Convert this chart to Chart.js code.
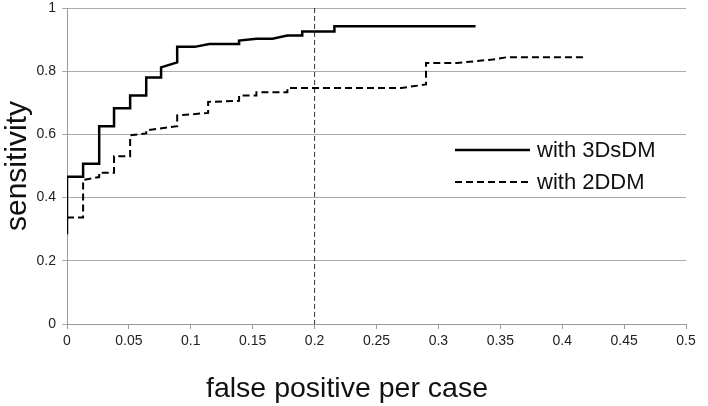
<!DOCTYPE html>
<html>
<head>
<meta charset="utf-8">
<script src="https://cdn.jsdelivr.net/npm/chart.js@4/dist/chart.umd.min.js"></script>
<style>
  html, body { margin: 0; padding: 0; background: #fff; }
</style>
</head>
<body>
<canvas id="rocChart" width="708" height="406"></canvas>
<script>
// FROC curves (step vertices)
const fp3D = [0, 0, 0.013, 0.013, 0.026, 0.026, 0.038, 0.038, 0.051, 0.051, 0.064, 0.064, 0.076, 0.076, 0.089, 0.089, 0.103, 0.115, 0.139, 0.139, 0.153, 0.166, 0.178, 0.19, 0.19, 0.216, 0.216, 0.33];
const sens3D = [0.284, 0.466, 0.466, 0.507, 0.507, 0.626, 0.626, 0.683, 0.683, 0.723, 0.723, 0.780, 0.780, 0.812, 0.828, 0.877, 0.877, 0.886, 0.886, 0.897, 0.903, 0.903, 0.913, 0.913, 0.926, 0.926, 0.942, 0.942];

const fp2D = [0, 0.013, 0.013, 0.026, 0.026, 0.038, 0.038, 0.051, 0.051, 0.064, 0.064, 0.089, 0.089, 0.114, 0.114, 0.139, 0.139, 0.153, 0.153, 0.178, 0.178, 0.27, 0.29, 0.29, 0.315, 0.344, 0.355, 0.418];
const sens2D = [0.337, 0.337, 0.456, 0.465, 0.479, 0.479, 0.531, 0.531, 0.597, 0.603, 0.613, 0.626, 0.660, 0.668, 0.703, 0.706, 0.723, 0.723, 0.733, 0.733, 0.747, 0.747, 0.758, 0.826, 0.826, 0.837, 0.844, 0.844];

const seriesNames = ["with 3DsDM", "with 2DDM"];
const markerFp = 0.2;

const xTitle = "false positive per case";
const yTitle = "sensitivity";

const FONT = '"Liberation Sans", Arial, sans-serif';

const toPoints = (xs, ys) => xs.map((x, i) => ({ x: x, y: ys[i] }));

// vertical dashed marker + axis titles + legend inside the plot
const decorPlugin = {
  id: 'decor',
  beforeDatasetsDraw(chart) {
    const { ctx, chartArea } = chart;
    const px = chart.scales.x.getPixelForValue(markerFp);
    ctx.save();
    ctx.strokeStyle = '#333';
    ctx.lineWidth = 1;
    ctx.setLineDash([5, 3]);
    ctx.beginPath();
    ctx.moveTo(px, chartArea.top);
    ctx.lineTo(px, chartArea.bottom);
    ctx.stroke();
    ctx.restore();
  },
  afterDraw(chart) {
    const { ctx } = chart;
    ctx.save();
    ctx.fillStyle = '#111';
    ctx.textAlign = 'center';
    ctx.textBaseline = 'alphabetic';
    ctx.font = '28.5px ' + FONT;
    ctx.fillText(xTitle, 347, 397);

    ctx.font = '30px ' + FONT;
    ctx.translate(26, 166);
    ctx.rotate(-Math.PI / 2);
    ctx.fillText(yTitle, 0, 0);
    ctx.restore();

    // legend
    ctx.save();
    ctx.font = '22px ' + FONT;
    ctx.fillStyle = '#111';
    ctx.textBaseline = 'middle';
    ctx.textAlign = 'left';
    chart.data.datasets.forEach((ds, i) => {
      const y = 150 + i * 32;
      ctx.strokeStyle = ds.borderColor;
      ctx.lineWidth = ds.borderWidth;
      ctx.setLineDash(ds.borderDash || []);
      ctx.beginPath();
      ctx.moveTo(455, y);
      ctx.lineTo(530, y);
      ctx.stroke();
      ctx.fillText(ds.label, 537, y + 1);
    });
    ctx.restore();
  }
};

new Chart(document.getElementById('rocChart'), {
  type: 'line',
  data: {
    datasets: [
      {
        label: seriesNames[0],
        data: toPoints(fp3D, sens3D),
        borderColor: '#000',
        borderWidth: 2.5,
        pointRadius: 0,
        tension: 0,
        fill: false
      },
      {
        label: seriesNames[1],
        data: toPoints(fp2D, sens2D),
        borderColor: '#000',
        borderWidth: 2,
        borderDash: [7, 4],
        pointRadius: 0,
        tension: 0,
        fill: false
      }
    ]
  },
  options: {
    responsive: false,
    animation: false,
    layout: { padding: { top: 8, right: 22, left: 0, bottom: 0 } },
    plugins: {
      legend: { display: false },
      tooltip: { enabled: false }
    },
    scales: {
      x: {
        type: 'linear',
        min: 0,
        max: 0.5,
        afterFit(scale) { scale.height = 82; },
        ticks: {
          stepSize: 0.05,
          padding: 4,
          color: '#222',
          font: { family: FONT, size: 14 },
          callback: v => String(Number(v.toFixed(2)))
        },
        grid: {
          drawOnChartArea: false,
          drawTicks: true,
          tickLength: 5,
          color: '#999'
        },
        border: { color: '#999', width: 1 }
      },
      y: {
        min: 0,
        max: 1,
        afterFit(scale) {
          scale.width = 67;
          scale.paddingTop = 0;
          scale.paddingBottom = 0;
        },
        ticks: {
          stepSize: 0.2,
          padding: 6,
          color: '#222',
          font: { family: FONT, size: 14 },
          callback: v => String(Number(v.toFixed(1)))
        },
        grid: {
          color: '#aaa',
          tickLength: 5,
          lineWidth: 1
        },
        border: { color: '#999', width: 1 }
      }
    }
  },
  plugins: [decorPlugin]
});
</script>
</body>
</html>
